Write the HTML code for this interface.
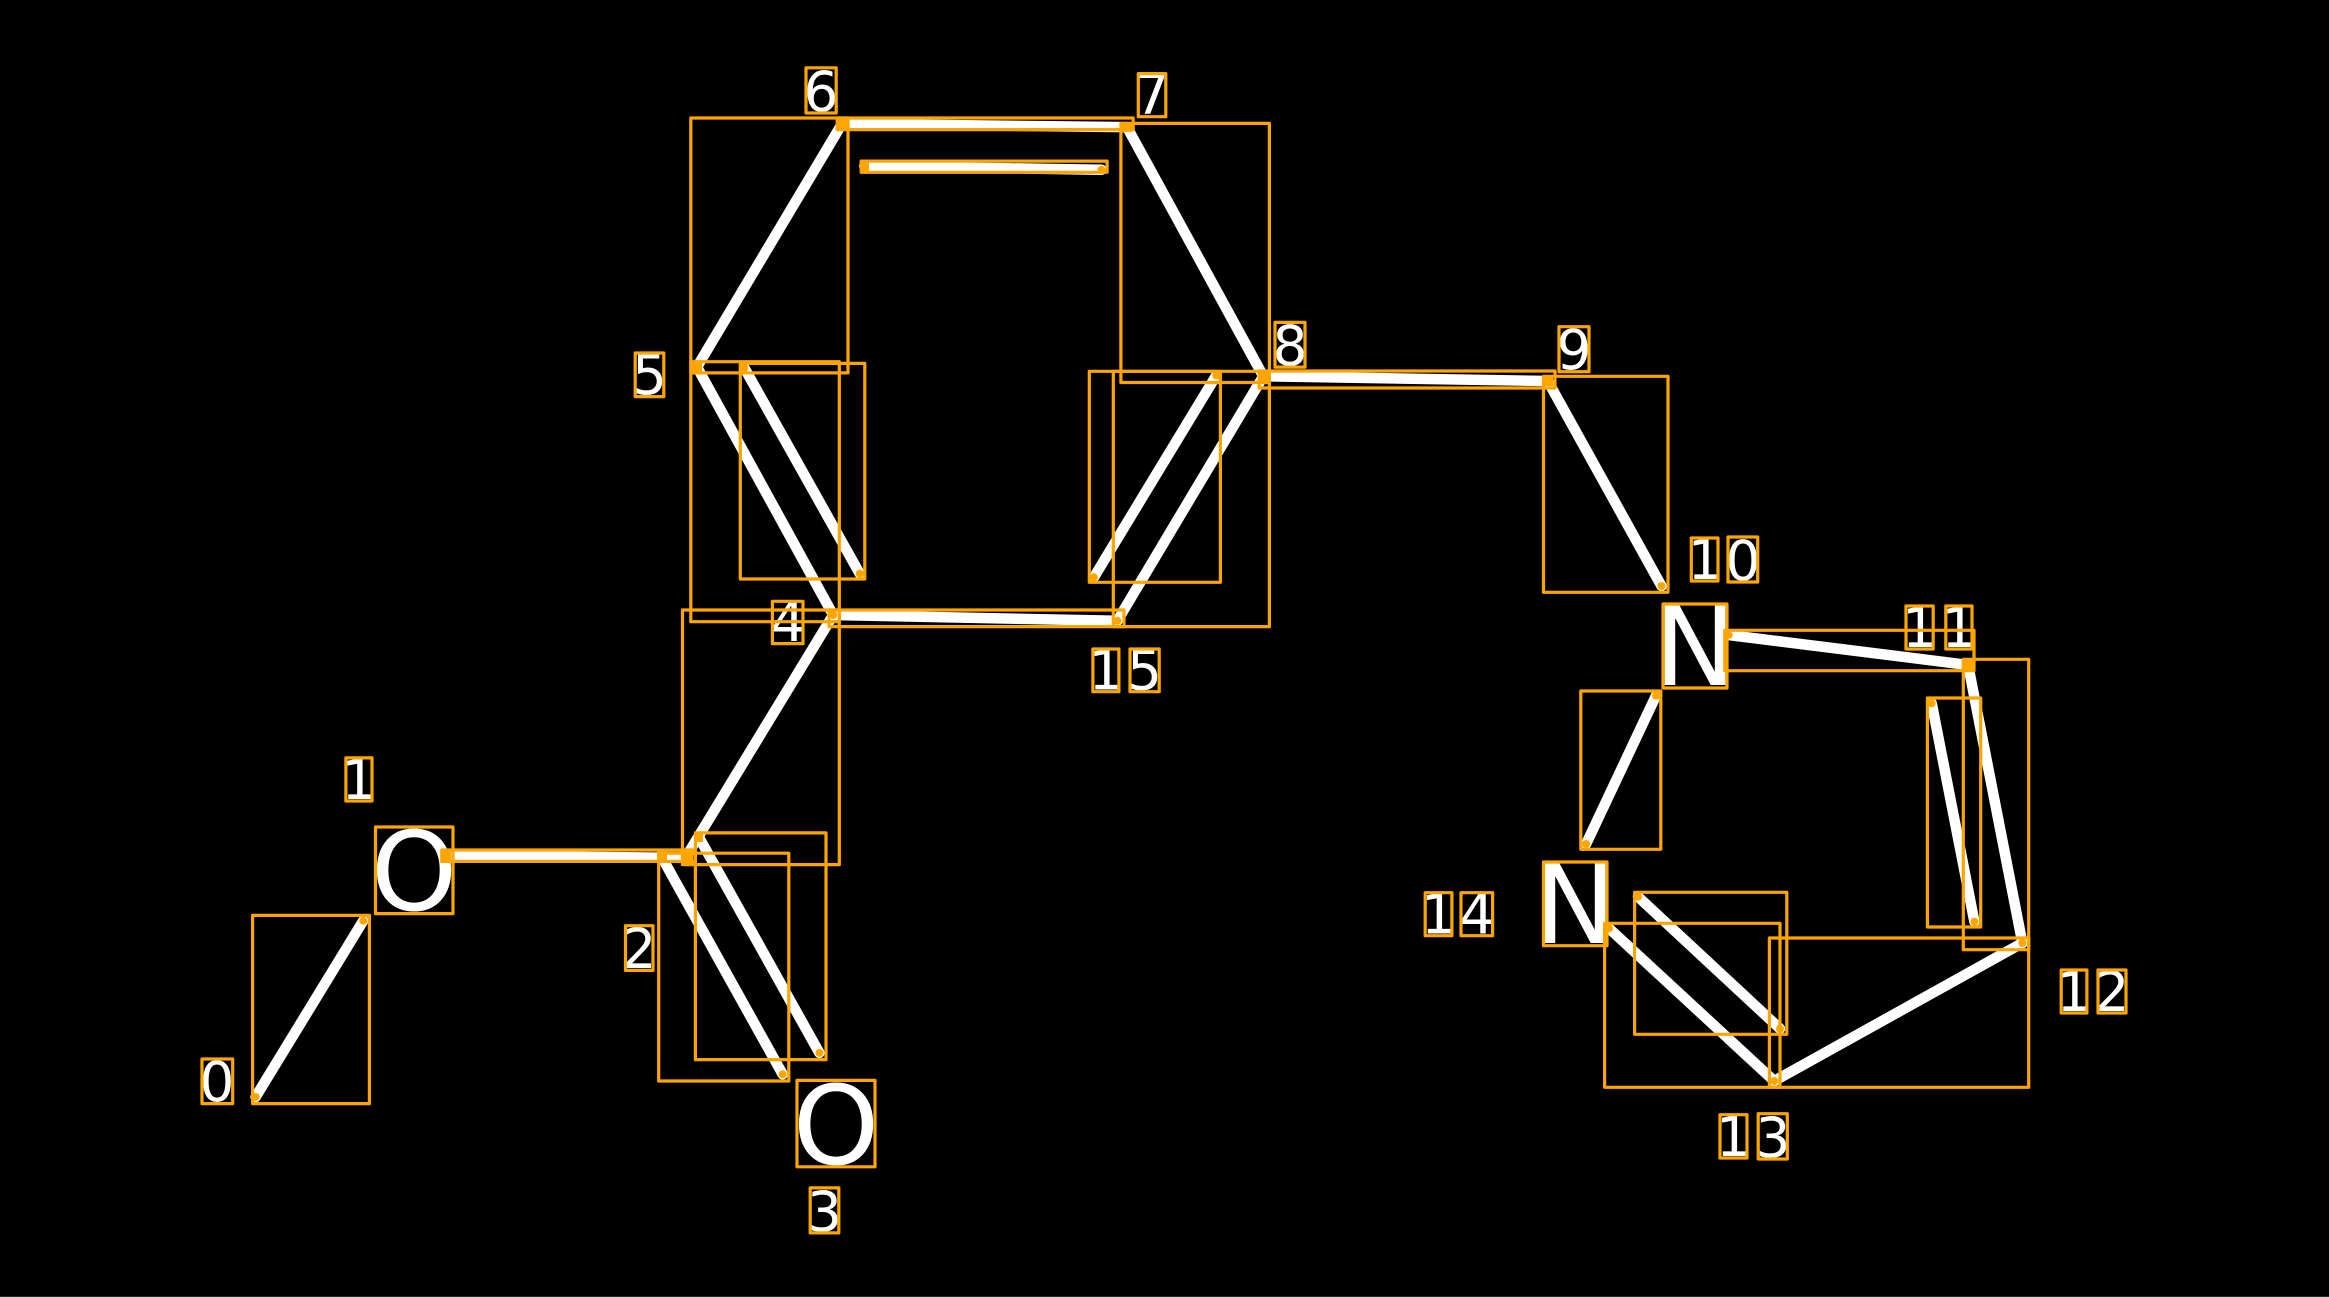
<!DOCTYPE html>
<html>
<head>
<meta charset="utf-8">
<style>
html,body{margin:0;padding:0;background:#000;width:2329px;height:1297px;overflow:hidden}
svg{display:block}
text{font-family:"DejaVu Sans","Liberation Sans",sans-serif;fill:#fff;text-anchor:middle}
.l{font-size:55px}
.a{font-size:110px}
.b line{stroke:#fff;stroke-width:10.5;stroke-linecap:round}
.r rect{fill:none;stroke:#ffa500;stroke-width:3.2;stroke-linejoin:round}
.d circle{fill:#ffa500}
.s rect{fill:#ffa500;stroke:#ffa500;stroke-width:2}
</style>
</head>
<body>
<svg width="2329" height="1297" viewBox="0 0 2329 1297" xmlns="http://www.w3.org/2000/svg">
<rect width="2329" height="1297" fill="#000"/>
<rect y="1296" width="2329" height="1" fill="#2a2a2a"/>
<g class="b">
<line x1="255.6" y1="1097" x2="363.3" y2="920.7"/>
<line x1="446" y1="855.4" x2="686.7" y2="857.9"/>
<line x1="686" y1="857" x2="833.2" y2="615"/>
<line x1="661.7" y1="857" x2="782.7" y2="1074.3"/>
<line x1="698.5" y1="836.4" x2="819.4" y2="1052.9"/>
<line x1="833.2" y1="615" x2="697" y2="367"/>
<line x1="744.4" y1="368" x2="859.7" y2="573.6"/>
<line x1="697" y1="367" x2="842" y2="123.8"/>
<line x1="842" y1="123.8" x2="1127" y2="127.1"/>
<line x1="864.3" y1="166" x2="1101.5" y2="169.8"/>
<line x1="1127" y1="127.1" x2="1263.3" y2="376.2"/>
<line x1="1263.3" y1="376.2" x2="1117.3" y2="620.8"/>
<line x1="1216.3" y1="375.4" x2="1093.9" y2="577.3"/>
<line x1="833.2" y1="615" x2="1117.3" y2="620.8"/>
<line x1="1263.3" y1="376.2" x2="1547.8" y2="381"/>
<line x1="1547.8" y1="381" x2="1661.5" y2="586"/>
<line x1="1728.6" y1="635" x2="1968.1" y2="665"/>
<line x1="1968.1" y1="665" x2="2022.4" y2="943"/>
<line x1="1931.7" y1="703.3" x2="1974.4" y2="921.7"/>
<line x1="2022.4" y1="943" x2="1774.2" y2="1081"/>
<line x1="1774.2" y1="1081" x2="1609" y2="928.3"/>
<line x1="1780" y1="1028.7" x2="1638" y2="896.7"/>
<line x1="1586.1" y1="844" x2="1656" y2="695.7"/>
</g>
<text class="a" x="414" y="910">O</text>
<text class="a" x="836" y="1164">O</text>
<text class="a" x="1695" y="685">N</text>
<text class="a" x="1575" y="943">N</text>
<text class="l" x="217" y="1101">0</text>
<text class="l" x="359" y="799">1</text>
<text class="l" x="639" y="968">2</text>
<text class="l" x="824.5" y="1231">3</text>
<text class="l" x="788" y="641">4</text>
<text class="l" x="649.5" y="394">5</text>
<text class="l" x="821" y="111">6</text>
<text class="l" x="1152" y="114">7</text>
<text class="l" x="1290" y="365">8</text>
<text class="l" x="1574" y="369">9</text>
<text class="l" x="1705" y="579">1</text>
<text class="l" x="1743" y="580">0</text>
<text class="l" x="1919.5" y="647">1</text>
<text class="l" x="1959" y="647">1</text>
<text class="l" x="2074" y="1011">1</text>
<text class="l" x="2112" y="1011">2</text>
<text class="l" x="1733.5" y="1156">1</text>
<text class="l" x="1773" y="1157">3</text>
<text class="l" x="1438.5" y="933.5">1</text>
<text class="l" x="1477" y="933.5">4</text>
<text class="l" x="1106" y="689.5">1</text>
<text class="l" x="1144.5" y="689.5">5</text>
<g class="r">
<rect x="252.6" y="915.4" width="116.8" height="188.2"/>
<rect x="441.8" y="850" width="253.2" height="11.4"/>
<rect x="682.5" y="610" width="156.8" height="254.6"/>
<rect x="658.7" y="853.2" width="130.1" height="227.8"/>
<rect x="695.4" y="832.9" width="130.6" height="226.7"/>
<rect x="690.8" y="361.7" width="148.5" height="260"/>
<rect x="740.3" y="363.4" width="124.5" height="215.6"/>
<rect x="690.8" y="118" width="157.2" height="254.9"/>
<rect x="837.2" y="118" width="296" height="11.6"/>
<rect x="861.2" y="161.1" width="245.9" height="11.2"/>
<rect x="1120.9" y="123.4" width="148.5" height="259.1"/>
<rect x="1089.3" y="371.3" width="131.1" height="211"/>
<rect x="1113.3" y="371.3" width="156.1" height="255.3"/>
<rect x="829" y="610" width="295" height="16.6"/>
<rect x="1259.2" y="371" width="295.8" height="17"/>
<rect x="1543.5" y="376.3" width="124.5" height="216"/>
<rect x="1724.8" y="630.3" width="249.2" height="40.4"/>
<rect x="1963.3" y="659.3" width="65.4" height="290.4"/>
<rect x="1927.4" y="698" width="53.3" height="229"/>
<rect x="1769.4" y="938" width="259.3" height="149.3"/>
<rect x="1604.6" y="923.3" width="175.4" height="164"/>
<rect x="1634.6" y="892.3" width="152.2" height="142"/>
<rect x="1580.8" y="691" width="80" height="158.3"/>
<rect x="375.5" y="827" width="77.5" height="86.6"/>
<rect x="797" y="1080.4" width="78" height="86.4"/>
<rect x="1663" y="604" width="64" height="84"/>
<rect x="1543.5" y="862" width="63.5" height="83.7"/>
<rect x="202" y="1059" width="30.7" height="44.6"/>
<rect x="345.9" y="757.9" width="26.1" height="43.1"/>
<rect x="625.5" y="925.7" width="27.5" height="44.7"/>
<rect x="810.2" y="1187.9" width="28.6" height="45"/>
<rect x="772.4" y="601.3" width="30.6" height="42.3"/>
<rect x="635.2" y="353" width="28.6" height="43.6"/>
<rect x="806" y="67.8" width="30.2" height="45.2"/>
<rect x="1138.3" y="73.6" width="27.5" height="43.1"/>
<rect x="1275" y="322.4" width="30" height="44.7"/>
<rect x="1559" y="326.7" width="30" height="45"/>
<rect x="1691.3" y="538" width="26.7" height="43"/>
<rect x="1728" y="537" width="29.7" height="45"/>
<rect x="1906" y="606" width="27.2" height="43"/>
<rect x="1945.8" y="606" width="26.2" height="43"/>
<rect x="2061.2" y="970" width="25.7" height="43"/>
<rect x="2098" y="970" width="28" height="43"/>
<rect x="1720" y="1114.7" width="27" height="43.3"/>
<rect x="1758.2" y="1113.7" width="29.1" height="45.3"/>
<rect x="1425.2" y="892.7" width="26.7" height="43"/>
<rect x="1461" y="892.7" width="31.6" height="43"/>
<rect x="1092.9" y="649" width="26" height="42.7"/>
<rect x="1130" y="649" width="29.2" height="42.7"/>
</g>
<g class="s">
<rect x="658" y="852" width="8" height="9"/>
<rect x="442" y="851" width="8" height="9"/>
<rect x="683" y="854" width="9" height="9"/>
<rect x="695" y="834" width="7" height="7"/>
<rect x="693" y="363" width="8" height="8"/>
<rect x="838" y="120" width="8" height="8"/>
<rect x="1123" y="123" width="8" height="8"/>
<rect x="861" y="162" width="7" height="8"/>
<rect x="1259" y="372" width="8" height="8"/>
<rect x="1544" y="377" width="8" height="8"/>
<rect x="1964" y="661" width="8" height="8"/>
</g>
<g class="d">
<circle cx="255.6" cy="1097" r="4"/>
<circle cx="363.3" cy="920.7" r="4"/>
<circle cx="782.7" cy="1074.3" r="4"/>
<circle cx="819.4" cy="1052.9" r="4"/>
<circle cx="833.2" cy="615" r="4"/>
<circle cx="859.7" cy="573.6" r="4"/>
<circle cx="744.4" cy="368" r="4"/>
<circle cx="842" cy="123.8" r="4"/>
<circle cx="1101.5" cy="169.8" r="4"/>
<circle cx="1127" cy="127.1" r="4"/>
<circle cx="1117.3" cy="620.8" r="4"/>
<circle cx="1216.3" cy="375.4" r="4"/>
<circle cx="1093.9" cy="577.3" r="4"/>
<circle cx="1263.3" cy="376.2" r="4"/>
<circle cx="1547.8" cy="381" r="4"/>
<circle cx="1661.5" cy="586" r="4"/>
<circle cx="1728.6" cy="635" r="4"/>
<circle cx="1968.1" cy="665" r="4"/>
<circle cx="2022.4" cy="943" r="4"/>
<circle cx="1931.7" cy="703.3" r="4"/>
<circle cx="1974.4" cy="921.7" r="4"/>
<circle cx="1774.2" cy="1081" r="4"/>
<circle cx="1609" cy="928.3" r="4"/>
<circle cx="1780" cy="1028.7" r="4"/>
<circle cx="1638" cy="896.7" r="4"/>
<circle cx="1586.1" cy="844" r="4"/>
<circle cx="1656" cy="695.7" r="4"/>
</g>
</svg>
</body>
</html>
